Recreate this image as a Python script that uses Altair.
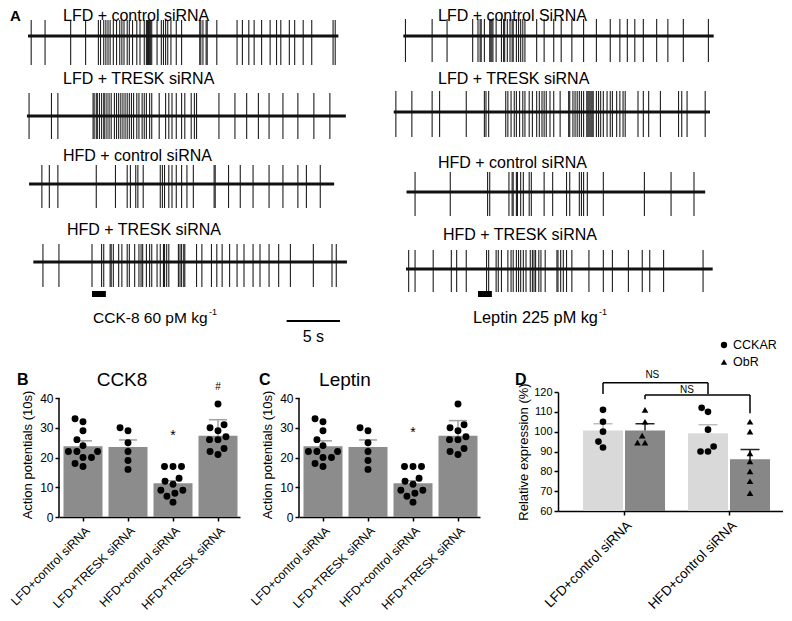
import json
import numpy as np
import pandas as pd
import altair as alt

FONT = "Liberation Sans"

# ======================= DATA =======================
# ---- Panel A: spike times (s) ----
TRACE_LABELS_L = ["LFD + control siRNA", "LFD + TRESK siRNA", "HFD + control siRNA", "HFD + TRESK siRNA"]
TRACE_LABELS_R = ["LFD + control SiRNA", "LFD + TRESK siRNA", "HFD + control siRNA", "HFD + TRESK siRNA"]

SPIKES_L1 = [0.3, 1.6, 4.0, 5.4, 6.6, 6.8, 7.1, 7.3, 7.5, 7.7, 8.0, 8.3, 8.6, 8.8, 9.0, 9.3, 9.5, 9.8,
             10.2, 10.5, 10.9, 11.1, 11.2, 11.3, 11.4, 11.5, 11.6, 12.1, 12.5, 12.7, 12.9, 13.1, 13.4,
             13.9, 14.4, 16.1, 16.2, 16.4, 16.7, 16.8, 17.7, 19.6, 20.1, 20.7, 21.2, 21.9, 22.7, 23.3,
             23.7, 24.5, 25.0, 25.8, 26.6, 28.6, 28.8]
SPIKES_L2 = [0.1, 2.2, 2.8, 6.1, 6.2, 6.4, 6.5, 6.7, 6.9, 7.1, 7.2, 7.4, 7.6, 7.8, 8.1, 8.3, 8.5, 8.7,
             8.9, 9.1, 9.3, 9.5, 9.7, 9.9, 10.2, 10.4, 10.7, 10.9, 11.1, 11.4, 11.6, 12.3, 12.9, 13.2,
             13.5, 13.9, 14.4, 14.7, 15.3, 15.6, 15.8, 17.9, 19.4, 20.5, 21.6, 22.6, 23.9, 25.3, 26.8, 28.3]
SPIKES_L3 = [1.3, 2.0, 2.8, 6.4, 8.2, 9.3, 9.6, 10.1, 10.3, 10.8, 12.4, 12.6, 12.8, 13.2, 13.5, 13.9,
             14.4, 14.9, 15.5, 17.45, 17.55, 18.8, 19.9, 21.1, 22.6, 23.9, 25.3, 26.1, 27.4]
SPIKES_L4 = [1.4, 2.9, 6.0, 6.9, 7.1, 7.7, 7.8, 8.0, 8.5, 8.8, 9.3, 9.5, 10.0, 10.4, 10.6, 10.75, 11.1,
             11.4, 11.6, 12.1, 12.4, 12.7, 12.8, 13.0, 13.2, 14.1, 14.25, 14.4, 14.6, 14.7, 15.8, 16.3,
             17.2, 17.7, 18.2, 18.9, 19.6, 20.25, 21.1, 21.75, 22.6, 23.5, 24.6, 26.75, 28.5, 28.9]
SPIKES_R1 = [0.2, 2.7, 4.1, 6.5, 7.0, 7.2, 7.3, 7.6, 8.1, 8.2, 8.3, 8.4, 8.7, 9.2, 9.4, 9.5, 9.75, 10.0,
             10.2, 10.3, 10.6, 10.8, 11.0, 11.2, 11.4, 12.5, 13.2, 14.1, 14.8, 15.8, 16.9, 18.1, 19.4,
             20.3, 21.0, 21.7, 22.5, 23.75, 24.8, 26.25, 28.6]
SPIKES_R2 = [-0.7, 0.8, 2.7, 3.4, 5.9, 7.6, 7.75, 8.0, 9.6, 9.8, 10.1, 10.4, 10.6, 10.9, 11.2, 11.4,
             11.8, 12.1, 12.5, 12.75, 13.0, 13.2, 13.4, 13.75, 14.1, 14.7, 15.5, 15.6, 15.9, 16.1, 16.3,
             16.5, 16.7, 16.9, 17.2, 17.3, 17.4, 17.5, 17.6, 17.7, 17.8, 18.1, 18.3, 18.5, 18.75, 19.1,
             19.4, 19.6, 20.0, 20.3, 20.6, 20.8, 22.0, 22.5, 23.0, 24.1, 25.8, 26.1, 26.6, 28.3]
SPIKES_R3 = [1.1, 4.4, 7.9, 8.1, 9.9, 10.2, 10.3, 10.6, 10.7, 11.0, 11.25, 11.8, 12.0, 13.2, 14.0, 15.3,
             15.6, 16.5, 16.7, 16.9, 17.25, 18.75, 22.6, 25.1, 27.25]
SPIKES_R4 = [0.5, 1.1, 2.8, 4.5, 5.0, 5.9, 7.8, 8.0, 8.7, 8.9, 9.2, 9.8, 10.1, 10.3, 10.6, 10.8, 11.0,
             11.25, 11.5, 11.9, 12.1, 12.25, 12.4, 12.7, 12.9, 13.3, 14.4, 14.5, 14.75, 15.0, 15.3, 15.8,
             17.4, 18.75, 19.6, 21.1, 22.4, 23.1, 24.4, 28.1]
SPIKES_L = [SPIKES_L1, SPIKES_L2, SPIKES_L3, SPIKES_L4]
SPIKES_R = [SPIKES_R1, SPIKES_R2, SPIKES_R3, SPIKES_R4]
TRACE_SPAN_L = [(0.0, 29.1), (-0.1, 29.8), (0.1, 28.7), (0.5, 29.9)]
TRACE_SPAN_R = [(0.0, 29.1), (-0.9, 28.75), (0.3, 28.3), (0.25, 29.0)]
STIM_L = (6.0, 7.3)
STIM_R = (7.0, 8.3)
SCALE_BAR = (24.25, 29.25)
DOSE_L = "CCK-8 60 pM kg"
DOSE_R = "Leptin 225 pM kg"
DOSE_EXP = "-1"
SCALE_TEXT = "5 s"

# ---- Panels B and C ----
BC_GROUPS = ["LFD+control siRNA", "LFD+TRESK siRNA", "HFD+control siRNA", "HFD+TRESK siRNA"]
B_POINTS = [
    [32, 33, 29, 26, 24, 22, 22, 22, 20, 20, 17, 18],
    [29, 30, 25, 22, 19, 16],
    [17, 17, 17, 13, 12, 11, 9, 9, 8, 7, 5],
    [38, 31, 30, 29, 27, 26, 26, 23, 21, 22],
]
B_ERR_TOP = [25.6, 25.9, 12.2, 32.7]
B_MARKS = [(2, "*", 27.2), (3, "#", 43.7)]
C_POINTS = [
    [32, 33, 29, 26, 24, 22, 22, 22, 20, 20, 17, 18],
    [29, 30, 25, 22, 19, 16],
    [17, 17, 17, 13, 12, 11, 9, 9, 8, 7, 5],
    [38, 31, 30, 29, 27, 26, 26, 23, 21, 22],
]
C_ERR_TOP = [25.6, 25.9, 12.2, 32.4]
C_MARKS = [(2, "*", 28.4)]
BC_YTITLE = "Action potentials (10s)"

# ---- Panel D ----
D_GROUPS = ["LFD+control siRNA", "HFD+control siRNA"]
D_SERIES = ["CCKAR", "ObR"]
D_CCKAR = [[111, 105, 100, 95, 92], [110, 112, 101, 92.5, 90, 90]]
D_OBR = [[111, 105, 98, 94.5, 94.5], [105, 100, 89, 85, 80, 75, 69]]
D_ERR_TOP = {"CCKAR": [104, 103.5], "ObR": [104, 91]}
# series, bracket level, left leg end, right leg end, label x (group units), label level
D_BRACKETS = [("CCKAR", 124.7, 119.0, 119.0, 0.27, 128.8), ("ObR", 118.5, 116.4, 109.3, 0.60, 121.0)]
D_BRACKET_TEXT = "NS"
D_YTITLE = "Relative expression (%)"

# ======================= LAYOUT / STYLE =======================
PX_PER_S = 32 / 3
ORIGIN_L, ORIGIN_R = 28.0, 403.33
PLOT_LEFT, TOP = 59, 8
HA, WA = 340, 724
ROW_BASE_L = [36, 116, 184, 262]
ROW_BASE_R = [36, 112, 192, 269]
SPIKE_UP_L, SPIKE_DN_L = [16, 23, 19, 18], [29, 23, 24, 25]
SPIKE_UP_R, SPIKE_DN_R = [17, 21, 20, 19], [26, 25, 24, 23]
LABEL_BASE_L = [21, 83.5, 160.5, 234.5]   # text baselines (page px)
LABEL_BASE_R = [21, 83.5, 167.5, 239.5]
LABEL_X_L = [63, 63, 63, 67]
LABEL_X_R = [438, 438, 438, 443]

W_B, H_B, STEP_B, FIRST_B = 181, 119, 45.0, 24.0
EXTRA_B = 6  # B/C plots sit 6 px lower than D
W_D, H_D, STEP_D, FIRST_D = 225, 119, 105.0, 66.0
GAP_BC, GAP_CD = 59, 78
BAR_B = "#8c8c8c"
D_COLORS = ["#d9d9d9", "#878787"]
D_CAP_COLORS = ["#bdbdbd", "#222222"]
DOT_GAP = 8.5


def swarm(values, px_per_unit, d):
    order = sorted(range(len(values)), key=lambda i: values[i])
    placed, offs = [], [0.0] * len(values)
    for i in order:
        y = values[i] * px_per_unit
        cands = [0.0]
        for px, py in placed:
            dy = abs(py - y)
            if dy < d:
                dx = (d * d - dy * dy) ** 0.5
                cands += [px + dx, px - dx]
        cands.sort(key=lambda c: (abs(c), c))
        for c in cands:
            if all((c - px) ** 2 + (y - py) ** 2 >= d * d - 1e-6 for px, py in placed):
                offs[i] = c
                break
        placed.append((offs[i], y))
    return offs


def s_left(page_x):
    return (page_x - ORIGIN_L) / PX_PER_S


SHIFT_R = (ORIGIN_R - ORIGIN_L) / PX_PER_S

# ======================= PANEL A =======================
XS_A = alt.Scale(domain=[s_left(PLOT_LEFT), s_left(PLOT_LEFT + WA)], nice=False, zero=False)
YS_A = alt.Scale(domain=[TOP, TOP + HA], reverse=True, nice=False, zero=False)


def ax(f):
    return alt.X(f"{f}:Q", scale=XS_A, axis=None)


def ay(f):
    return alt.Y(f"{f}:Q", scale=YS_A, axis=None)


spk, base, labs = [], [], []
for col, (spikes, spans, bases, ups, dns, names, lx, ly, shift, org) in enumerate([
        (SPIKES_L, TRACE_SPAN_L, ROW_BASE_L, SPIKE_UP_L, SPIKE_DN_L, TRACE_LABELS_L, LABEL_X_L, LABEL_BASE_L, 0.0, ORIGIN_L),
        (SPIKES_R, TRACE_SPAN_R, ROW_BASE_R, SPIKE_UP_R, SPIKE_DN_R, TRACE_LABELS_R, LABEL_X_R, LABEL_BASE_R, SHIFT_R, ORIGIN_R)]):
    for r in range(4):
        for t in spikes[r]:
            spk.append({"x": t + shift, "y": bases[r] - ups[r], "y2": bases[r] + dns[r]})
        base.append({"x": spans[r][0] + shift, "x2": spans[r][1] + shift, "y": bases[r]})
        labs.append({"x": (lx[r] - org) / PX_PER_S + shift, "y": ly[r], "text": names[r]})

spk_df, base_df, lab_df = pd.DataFrame(spk), pd.DataFrame(base), pd.DataFrame(labs)
stim_df = pd.DataFrame({"x": [STIM_L[0], STIM_R[0] + SHIFT_R], "x2": [STIM_L[1], STIM_R[1] + SHIFT_R], "y": [294, 294]})
bar_df = pd.DataFrame({"x": [SCALE_BAR[0]], "x2": [SCALE_BAR[1]], "y": [321]})
sbt_df = pd.DataFrame({"x": [(SCALE_BAR[0] + SCALE_BAR[1]) / 2], "y": [337], "text": [SCALE_TEXT]})
dose_df = pd.DataFrame({"x": [s_left(93), s_left(473)], "y": [318, 318], "text": [DOSE_L, DOSE_R], "fs": [15.5, 16.3]})
exp_df = pd.DataFrame({"x": [s_left(209), s_left(599)], "y": [312, 312], "text": [DOSE_EXP, DOSE_EXP]})
letA_df = pd.DataFrame({"x": [s_left(10)], "y": [21], "text": ["A"]})
mark_df = pd.DataFrame({"x": [s_left(8.5)], "y": [TOP], "y2": [TOP + HA]})

A = alt.layer(
    alt.Chart(mark_df).mark_rule(opacity=0).encode(x=ax("x"), y=ay("y"), y2="y2"),
    alt.Chart(spk_df).mark_rule(color="#1e1e1e", strokeWidth=1.1).encode(x=ax("x"), y=ay("y"), y2="y2"),
    alt.Chart(base_df).mark_rule(color="#111111", strokeWidth=3).encode(x=ax("x"), x2="x2", y=ay("y")),
    alt.Chart(lab_df).mark_text(align="left", baseline="alphabetic", fontSize=16, font=FONT, color="black").encode(
        x=ax("x"), y=ay("y"), text="text:N"),
    alt.Chart(letA_df).mark_text(align="left", baseline="alphabetic", fontSize=15, fontWeight="bold", font=FONT,
                                 color="black").encode(x=ax("x"), y=ay("y"), text="text:N"),
    alt.Chart(stim_df).mark_rule(color="black", strokeWidth=6).encode(x=ax("x"), x2="x2", y=ay("y")),
    alt.Chart(bar_df).mark_rule(color="black", strokeWidth=2).encode(x=ax("x"), x2="x2", y=ay("y")),
    alt.Chart(sbt_df).mark_text(align="center", baseline="middle", fontSize=16, font=FONT, color="black").encode(
        x=ax("x"), y=ay("y"), text="text:N"),
    alt.Chart(dose_df).mark_text(align="left", baseline="middle", font=FONT, color="black").encode(
        x=ax("x"), y=ay("y"), text="text:N", size=alt.Size("fs:Q", scale=None, legend=None)),
    alt.Chart(exp_df).mark_text(align="left", baseline="middle", fontSize=9, font=FONT, color="black").encode(
        x=ax("x"), y=ay("y"), text="text:N"),
).properties(width=WA, height=HA)

# ======================= PANELS B / C =======================
AXIS_COMMON = dict(domainColor="black", domainWidth=1.5, tickColor="black", tickWidth=1.5, tickSize=4,
                   labelColor="black", titleColor="black", labelFont=FONT, titleFont=FONT, grid=False)


def bc_panel(points, err_top, marks, letter, title, letter_x, title_x):
    n = len(BC_GROUPS)
    means = [float(np.mean(p)) for p in points]
    half, cap = 19.5 / STEP_B, 9.0 / STEP_B
    bars = pd.DataFrame({"xc": list(range(n)), "xl": [i - half for i in range(n)], "xr": [i + half for i in range(n)],
                         "cl": [i - cap for i in range(n)], "cr": [i + cap for i in range(n)],
                         "m": means, "e": err_top})
    rows = []
    for i, vals in enumerate(points):
        offs = swarm(vals, H_B / 40.0, DOT_GAP)
        rows += [{"x": i + o / STEP_B, "v": v} for v, o in zip(vals, offs)]
    pts = pd.DataFrame(rows)
    xs = alt.Scale(domain=[-FIRST_B / STEP_B, (W_B - FIRST_B) / STEP_B], nice=False, zero=False)
    xaxis = alt.Axis(values=list(range(n)), labelExpr=json.dumps(BC_GROUPS) + "[datum.value]", labelAngle=-45,
                     labelFontSize=12.3, labelOverlap=False, labelFlush=False, labelPadding=3, title=None,
                     **AXIS_COMMON)
    ys = alt.Scale(domain=[0, 40.0 * (H_B + EXTRA_B) / H_B], nice=False, zero=False)
    yaxis = alt.Axis(values=[0, 10, 20, 30, 40], title=BC_YTITLE, titleFontSize=13, titleFontWeight="normal",
                     labelFontSize=12, titlePadding=5, labelPadding=2, domain=False, **AXIS_COMMON)

    def X(f):
        return alt.X(f"{f}:Q", scale=xs, axis=xaxis)

    def Y(f):
        return alt.Y(f"{f}:Q", scale=ys, axis=yaxis)

    layers = [
        alt.Chart(pd.DataFrame({"y": [0], "y2": [40]})).mark_rule(color="black", strokeWidth=1.5).encode(
            x=alt.value(0), y=Y("y"), y2="y2"),
        alt.Chart(bars).mark_rect(color=BAR_B).encode(x=X("xl"), x2="xr", y=Y("m"), y2=alt.datum(0)),
        alt.Chart(bars).mark_rule(color="#a0a0a0", strokeWidth=1.5).encode(x=X("xc"), y=Y("m"), y2="e"),
        alt.Chart(bars).mark_rule(color="#a0a0a0", strokeWidth=1.5).encode(x=X("cl"), x2="cr", y=Y("e")),
        alt.Chart(pts).mark_point(filled=True, color="black", opacity=1, size=48).encode(x=X("x"), y=Y("v")),
    ]
    for gi, sym, yv in marks:
        layers.append(alt.Chart(pd.DataFrame({"x": [gi], "y": [yv], "t": [sym]})).mark_text(
            fontSize=14 if sym == "*" else 10, font=FONT, color="black", baseline="middle").encode(
            x=X("x"), y=Y("y"), text="t:N"))
    layers.append(alt.Chart(pd.DataFrame({"t": [letter]})).mark_text(
        fontSize=16, fontWeight="bold", font=FONT, color="black", align="left", baseline="middle").encode(
        x=alt.value(letter_x), y=alt.value(-12), text="t:N"))
    layers.append(alt.Chart(pd.DataFrame({"t": [title]})).mark_text(
        fontSize=19, font=FONT, color="black", align="center", baseline="middle").encode(
        x=alt.value(title_x), y=alt.value(-12), text="t:N"))
    return alt.layer(*layers).properties(width=W_B, height=H_B + EXTRA_B)


B = bc_panel(B_POINTS, B_ERR_TOP, B_MARKS, "B", "CCK8", -42, 63)
C = bc_panel(C_POINTS, C_ERR_TOP, C_MARKS, "C", "Leptin", -40, 46)

# ======================= PANEL D =======================
half_d, cap_d, off_d = 20.0 / STEP_D, 9.5 / STEP_D, 21.0 / STEP_D
dbars, dpts = [], []
for si, (sname, data) in enumerate(zip(D_SERIES, [D_CCKAR, D_OBR])):
    for g in range(len(D_GROUPS)):
        xc = g + (2 * si - 1) * off_d
        vals = data[g]
        dbars.append({"s": sname, "xc": xc, "xl": xc - half_d, "xr": xc + half_d, "cl": xc - cap_d, "cr": xc + cap_d,
                      "m": float(np.mean(vals)), "e": D_ERR_TOP[sname][g]})
        offs = swarm(vals, H_D / 60.0, 7.5)
        dpts += [{"s": sname, "x": xc + o / STEP_D, "v": v} for v, o in zip(vals, offs)]
dbars, dpts = pd.DataFrame(dbars), pd.DataFrame(dpts)

brk_h, brk_v, brk_t = [], [], []
for sname, lvl, l_end, r_end, t_x, t_lvl in D_BRACKETS:
    si = D_SERIES.index(sname)
    xl = 0 + (2 * si - 1) * off_d
    xr = 1 + (2 * si - 1) * off_d
    brk_h.append({"x": xl, "x2": xr, "y": lvl})
    brk_v += [{"x": xl, "y": lvl, "y2": l_end}, {"x": xr, "y": lvl, "y2": r_end}]
    brk_t.append({"x": t_x, "y": t_lvl, "t": D_BRACKET_TEXT})

xs_d = alt.Scale(domain=[-FIRST_D / STEP_D, (W_D - FIRST_D) / STEP_D], nice=False, zero=False)
xaxis_d = alt.Axis(values=list(range(len(D_GROUPS))), labelExpr=json.dumps(D_GROUPS) + "[datum.value]", labelAngle=-45,
                   labelFontSize=13.5, labelOverlap=False, labelFlush=False, labelPadding=3, title=None, **AXIS_COMMON)
ys_d = alt.Scale(domain=[60, 120], nice=False, zero=False)
yaxis_d = alt.Axis(values=list(range(60, 121, 10)), title=D_YTITLE, titleFontSize=13, titleFontWeight="normal",
                   labelFontSize=11, titlePadding=3, labelPadding=2, **AXIS_COMMON)


def XD(f):
    return alt.X(f"{f}:Q", scale=xs_d, axis=xaxis_d)


def YD(f):
    return alt.Y(f"{f}:Q", scale=ys_d, axis=yaxis_d)


shape_d = alt.Shape("s:N", scale=alt.Scale(domain=D_SERIES, range=["circle", "triangle-up"]), legend=None)

d_layers = [
    alt.Chart(dbars).mark_rect().encode(x=XD("xl"), x2="xr", y=YD("m"), y2=alt.datum(60), fill=alt.Fill(
        "s:N", scale=alt.Scale(domain=D_SERIES, range=D_COLORS), legend=None)),
    alt.Chart(dbars).mark_rule(strokeWidth=1.5).encode(x=XD("xc"), y=YD("m"), y2="e", stroke=alt.Stroke(
        "s:N", scale=alt.Scale(domain=D_SERIES, range=D_CAP_COLORS), legend=None)),
    alt.Chart(dbars).mark_rule(strokeWidth=1.5).encode(x=XD("cl"), x2="cr", y=YD("e"), stroke=alt.Stroke(
        "s:N", scale=alt.Scale(domain=D_SERIES, range=D_CAP_COLORS), legend=None)),
    alt.Chart(dpts).mark_point(filled=True, color="black", opacity=1, size=44).encode(
        x=XD("x"), y=YD("v"), shape=shape_d),
    alt.Chart(pd.DataFrame(brk_h)).mark_rule(color="black", strokeWidth=1.5).encode(x=XD("x"), x2="x2", y=YD("y")),
    alt.Chart(pd.DataFrame(brk_v)).mark_rule(color="black", strokeWidth=1.5).encode(x=XD("x"), y=YD("y"), y2="y2"),
    alt.Chart(pd.DataFrame(brk_t)).mark_text(fontSize=10, font=FONT, color="black", baseline="middle").encode(
        x=XD("x"), y=YD("y"), text="t:N"),
    alt.Chart(pd.DataFrame({"t": ["D"]})).mark_text(fontSize=16, fontWeight="bold", font=FONT, color="black",
                                                   align="left", baseline="middle").encode(
        x=alt.value(-43), y=alt.value(-12), text="t:N"),
]
for k, (sname, shp) in enumerate(zip(D_SERIES, ["circle", "triangle-up"])):
    d_layers.append(alt.Chart(pd.DataFrame({"t": [sname]})).mark_point(
        shape=shp, filled=True, color="black", opacity=1, size=40).encode(
        x=alt.value(166), y=alt.value(-47 + 17 * k)))
    d_layers.append(alt.Chart(pd.DataFrame({"t": [sname]})).mark_text(
        fontSize=12.5, font=FONT, color="black", align="left", baseline="middle").encode(
        x=alt.value(175), y=alt.value(-47 + 17 * k), text="t:N"))
D = alt.layer(*d_layers).properties(width=W_D, height=H_D)


# ======================= COMPOSE =======================
def spacer(w):
    return alt.Chart(pd.DataFrame({"a": [0]})).mark_point(opacity=0).properties(width=w, height=10)


bottom = alt.hconcat(B, spacer(GAP_BC), C, spacer(GAP_CD), D, spacing=0, bounds="flush")
chart = alt.vconcat(A, bottom, spacing=44, bounds="flush", padding=0).configure(font=FONT).configure_view(stroke=None)

chart.save("out.html", embed_options={"renderer": "svg", "actions": False})
